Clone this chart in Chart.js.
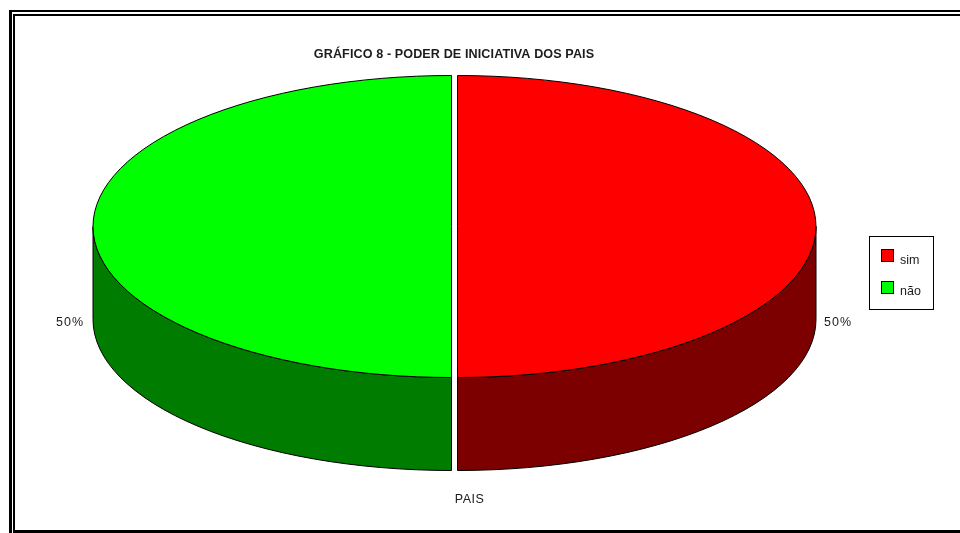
<!DOCTYPE html>
<html>
<head>
<meta charset="utf-8">
<title>Poder de iniciativa dos pais</title>
<script src="https://cdn.jsdelivr.net/npm/chart.js@4"></script>
<style>
  html, body { margin: 0; padding: 0; background: #fff; overflow: hidden; }
  #wrap { position: relative; width: 960px; height: 533px; }
</style>
</head>
<body>
<div id="wrap"><canvas id="grafico" width="960" height="533"></canvas></div>
<script>
/* ---------- DATA ---------- */
const categories = ['sim', 'não'];
const values = [50, 50];
const topColors = ['#ff0000', '#00ff00'];
const sideColors = ['#7c0000', '#007c00'];
const chartTitle = 'GRÁFICO 8 - PODER DE INICIATIVA DOS PAIS';
const seriesName = 'PAIS';

/* ---------- LAYOUT ---------- */
const centerX = 454.5, centerY = 226.5;
const radiusX = 358.5, radiusY = 151;
const depth = 93;
const sliceOffset = 12;
const squash = radiusY / radiusX;
const labelSpots = [[838, 326], [70, 326]];
const font = 'Liberation Sans, Arial, sans-serif';

function text(ctx, str, x, y, size, align, bold, spacing) {
  ctx.font = (bold ? 'bold ' : '') + size + 'px ' + font;
  ctx.letterSpacing = (spacing || 0) + 'px';
  ctx.textAlign = align;
  ctx.textBaseline = 'alphabetic';
  ctx.fillStyle = '#1c1c1c';
  ctx.fillText(str, x, y);
  ctx.letterSpacing = '0px';
}

// where a slice ends up after its offset (ArcElement moves it by offset / 4)
function sliceShift(arc) {
  const mid = (arc.startAngle + arc.endAngle) / 2;
  return Math.cos(mid) * arc.options.offset / 4;
}

function drawWall(ctx, arc, index) {
  const a1 = Math.max(arc.startAngle, 0);
  const a2 = Math.min(arc.endAngle, Math.PI);
  if (a2 <= a1) return;
  const x = centerX + sliceShift(arc);
  ctx.beginPath();
  ctx.ellipse(x, centerY, radiusX, radiusY, 0, a1, a2);
  ctx.ellipse(x, centerY + depth, radiusX, radiusY, 0, a2, a1, true);
  ctx.closePath();
  ctx.fillStyle = sideColors[index];
  ctx.fill();
  ctx.lineWidth = 1;
  ctx.strokeStyle = '#000';
  ctx.stroke();
}

/* ---------- 3D PIE PLUGIN ---------- */
const pie3d = {
  id: 'pie3d',
  beforeDatasetsDraw(chart) {
    const ctx = chart.ctx;
    const arcs = chart.getDatasetMeta(0).data;
    arcs.forEach((arc, i) => drawWall(ctx, arc, i));
    // the library draws the top face, flattened into an ellipse
    ctx.save();
    ctx.translate(centerX, centerY);
    ctx.scale(1, squash);
    ctx.translate(-arcs[0].x, -arcs[0].y);
  },
  afterDatasetsDraw(chart) {
    const ctx = chart.ctx;
    ctx.restore();
    chart.getDatasetMeta(0).data.forEach(arc => {
      const x = centerX + sliceShift(arc);
      ctx.beginPath();
      ctx.moveTo(x, centerY);
      ctx.ellipse(x, centerY, radiusX, radiusY, 0, arc.startAngle, arc.endAngle);
      ctx.closePath();
      ctx.lineWidth = 1;
      ctx.strokeStyle = '#000';
      ctx.stroke();
    });
  },
  afterDraw(chart) {
    const ctx = chart.ctx;
    // double frame, cut off on the right like the original
    ctx.fillStyle = '#000';
    ctx.fillRect(9, 10, 951, 2);
    ctx.fillRect(9, 10, 3, 523);
    ctx.fillRect(13, 14, 947, 2);
    ctx.fillRect(13, 14, 2, 519);
    ctx.fillRect(13, 530, 947, 3);

    text(ctx, chartTitle, 454, 58, 12.6, 'center', true, 0.1);
    text(ctx, seriesName, 469.5, 503, 12.5, 'center', false, 0.5);

    const total = values.reduce((a, b) => a + b, 0);
    values.forEach((v, i) => {
      text(ctx, Math.round(v / total * 100) + '%', labelSpots[i][0], labelSpots[i][1], 12.5, 'center', false, 1);
    });

    // legend
    ctx.lineWidth = 1;
    ctx.strokeStyle = '#000';
    ctx.strokeRect(869.5, 236.5, 64, 73);
    categories.forEach((c, i) => {
      const y = 249.5 + i * 32;
      ctx.fillStyle = topColors[i];
      ctx.fillRect(881.5, y, 12, 12);
      ctx.strokeRect(881.5, y, 12, 12);
      text(ctx, c, 900, 264 + i * 31, 12.5, 'left', false);
    });
  }
};

/* ---------- CHART ---------- */
new Chart(document.getElementById('grafico'), {
  type: 'pie',
  data: {
    labels: categories,
    datasets: [{
      label: seriesName,
      data: values,
      backgroundColor: topColors,
      borderWidth: 0,
      offset: sliceOffset,
      clip: false
    }]
  },
  options: {
    responsive: false,
    animation: false,
    // ArcElement adds offset / 4 back onto the radius
    radius: radiusX - sliceOffset / 4,
    plugins: {
      legend: { display: false },
      title: { display: false },
      tooltip: { enabled: false }
    }
  },
  plugins: [pie3d]
});
</script>
</body>
</html>
